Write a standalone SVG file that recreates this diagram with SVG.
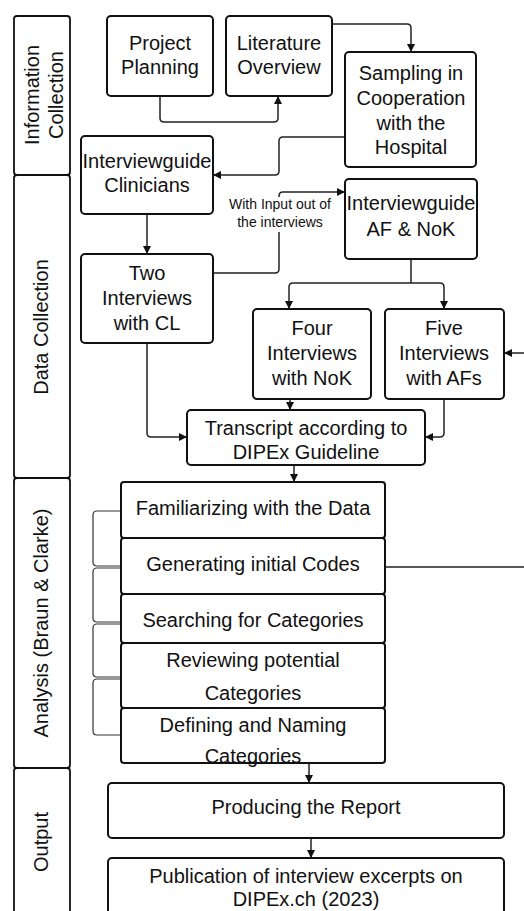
<svg xmlns="http://www.w3.org/2000/svg" width="524" height="911" viewBox="0 0 524 911">
<defs>
<marker id="arr" viewBox="0 0 8 8" refX="8" refY="4" markerWidth="8" markerHeight="8" markerUnits="userSpaceOnUse" orient="auto">
<path d="M0,0 L8,4 L0,8 z" fill="#111"/>
</marker>
</defs>
<style>
.lane{fill:#fff;stroke:#111;stroke-width:1.8}
.box{fill:#fff;stroke:#111;stroke-width:2}
.t{font-family:"Liberation Sans",Arial,sans-serif;font-size:20px;fill:#111;text-anchor:middle;dominant-baseline:central}
.s{font-family:"Liberation Sans",Arial,sans-serif;font-size:14px;fill:#111;text-anchor:middle;dominant-baseline:central}
.c{fill:none;stroke:#222;stroke-width:1.5}
.b{fill:none;stroke:#333;stroke-width:1.2}
</style>
<rect width="524" height="911" fill="#fff"/>

<g id="lane-info">
<rect class="lane" x="14" y="16" width="56" height="159" rx="3"/>
<text class="t" transform="translate(32,95) rotate(-90)">Information</text>
<text class="t" transform="translate(56,95) rotate(-90)">Collection</text>
</g>
<g id="lane-data">
<rect class="lane" x="14" y="175" width="56" height="303" rx="3"/>
<text class="t" transform="translate(41,327) rotate(-90)">Data Collection</text>
</g>
<g id="lane-analysis">
<rect class="lane" x="14" y="478" width="56" height="290" rx="3"/>
<text class="t" transform="translate(41,623) rotate(-90)">Analysis (Braun &amp; Clarke)</text>
</g>
<g id="lane-output">
<rect class="lane" x="14" y="768" width="56" height="150" rx="3"/>
<text class="t" transform="translate(41,842) rotate(-90)">Output</text>
</g>

<g id="connectors">
<path class="c" d="M160,96 V118 Q160,122 164,122 H274 Q278,122 278,118 V96" marker-end="url(#arr)"/>
<path class="c" d="M332,24 H407 Q411,24 411,28 V52" marker-end="url(#arr)"/>
<path class="c" d="M345,137 H283 Q279,137 279,141 V171 Q279,175 275,175 H213" marker-end="url(#arr)"/>
<path class="c" d="M147,214 V254" marker-end="url(#arr)"/>
<path class="c" d="M213,273 H275 Q279,273 279,269 V232"/>
<path class="c" d="M279,197 V196 Q279,192 283,192 H345" marker-end="url(#arr)"/>
<path class="c" d="M411,259 V283"/>
<path class="c" d="M411,283 H293 Q289,283 289,287 V309" marker-end="url(#arr)"/>
<path class="c" d="M411,283 H440 Q444,283 444,287 V309" marker-end="url(#arr)"/>
<path class="c" d="M524,353 H504" marker-end="url(#arr)"/>
<path class="c" d="M290,399 V410" marker-end="url(#arr)"/>
<path class="c" d="M444,399 V433 Q444,437 440,437 H425" marker-end="url(#arr)"/>
<path class="c" d="M147,343 V433 Q147,437 151,437 H187" marker-end="url(#arr)"/>
<path class="c" d="M294,465 V482" marker-end="url(#arr)"/>
<path class="c" d="M385,567 H524"/>
<path class="c" d="M309,763 V783" marker-end="url(#arr)"/>
<path class="c" d="M311,838 V858" marker-end="url(#arr)"/>
<path class="b" d="M121,511 H97 Q93,511 93,515 V562 Q93,566 97,566 H121"/>
<path class="b" d="M121,568 H97 Q93,568 93,572 V618 Q93,622 97,622 H121"/>
<path class="b" d="M121,624 H97 Q93,624 93,628 V673 Q93,677 97,677 H121"/>
<path class="b" d="M121,679 H97 Q93,679 93,683 V731 Q93,735 97,735 H121"/>
<text class="s" x="280" y="204">With Input out of</text>
<text class="s" x="280" y="222">the interviews</text>
</g>

<g id="project-planning">
<rect class="box" x="107" y="16" width="106" height="80" rx="4"/>
<text class="t" x="160" y="43">Project</text>
<text class="t" x="160" y="67">Planning</text>
</g>
<g id="literature-overview">
<rect class="box" x="226" y="16" width="106" height="80" rx="4"/>
<text class="t" x="279" y="43">Literature</text>
<text class="t" x="279" y="67">Overview</text>
</g>
<g id="sampling">
<rect class="box" x="345" y="52" width="131" height="115" rx="4"/>
<text class="t" x="411" y="73">Sampling in</text>
<text class="t" x="411" y="98">Cooperation</text>
<text class="t" x="411" y="123">with the</text>
<text class="t" x="411" y="147">Hospital</text>
</g>
<g id="ig-clinicians">
<rect class="box" x="81" y="136" width="132" height="78" rx="4"/>
<text class="t" x="147" y="161">Interviewguide</text>
<text class="t" x="147" y="185">Clinicians</text>
</g>
<g id="ig-af-nok">
<rect class="box" x="345" y="179" width="132" height="80" rx="4"/>
<text class="t" x="411" y="203">Interviewguide</text>
<text class="t" x="411" y="229">AF &amp; NoK</text>
</g>
<g id="two-interviews">
<rect class="box" x="81" y="254" width="132" height="89" rx="4"/>
<text class="t" x="147" y="273">Two</text>
<text class="t" x="147" y="298">Interviews</text>
<text class="t" x="147" y="323">with CL</text>
</g>
<g id="four-interviews">
<rect class="box" x="253" y="309" width="118" height="90" rx="4"/>
<text class="t" x="312" y="328">Four</text>
<text class="t" x="312" y="353">Interviews</text>
<text class="t" x="312" y="378">with NoK</text>
</g>
<g id="five-interviews">
<rect class="box" x="385" y="309" width="119" height="90" rx="4"/>
<text class="t" x="444" y="328">Five</text>
<text class="t" x="444" y="353">Interviews</text>
<text class="t" x="444" y="378">with AFs</text>
</g>
<g id="transcript">
<rect class="box" x="187" y="410" width="238" height="55" rx="4"/>
<text class="t" x="306" y="428">Transcript according to</text>
<text class="t" x="306" y="452">DIPEx Guideline</text>
</g>
<g id="familiarizing">
<rect class="box" x="121" y="482" width="264" height="56" rx="3"/>
<text class="t" x="253" y="508">Familiarizing with the Data</text>
</g>
<g id="generating">
<rect class="box" x="121" y="538" width="264" height="56" rx="3"/>
<text class="t" x="253" y="564">Generating initial Codes</text>
</g>
<g id="searching">
<rect class="box" x="121" y="594" width="264" height="49" rx="3"/>
<text class="t" x="253" y="620">Searching for Categories</text>
</g>
<g id="reviewing">
<rect class="box" x="121" y="643" width="264" height="65" rx="3"/>
<text class="t" x="253" y="660">Reviewing potential</text>
<text class="t" x="253" y="693">Categories</text>
</g>
<g id="defining">
<rect class="box" x="121" y="708" width="264" height="55" rx="3"/>
<text class="t" x="253" y="725">Defining and Naming</text>
<text class="t" x="253" y="756">Categories</text>
</g>
<g id="producing">
<rect class="box" x="108" y="783" width="396" height="55" rx="4"/>
<text class="t" x="306" y="807">Producing the Report</text>
</g>
<g id="publication">
<rect class="box" x="108" y="858" width="396" height="60" rx="4"/>
<text class="t" x="306" y="876">Publication of interview excerpts on</text>
<text class="t" x="306" y="899">DIPEx.ch (2023)</text>
</g>
</svg>
